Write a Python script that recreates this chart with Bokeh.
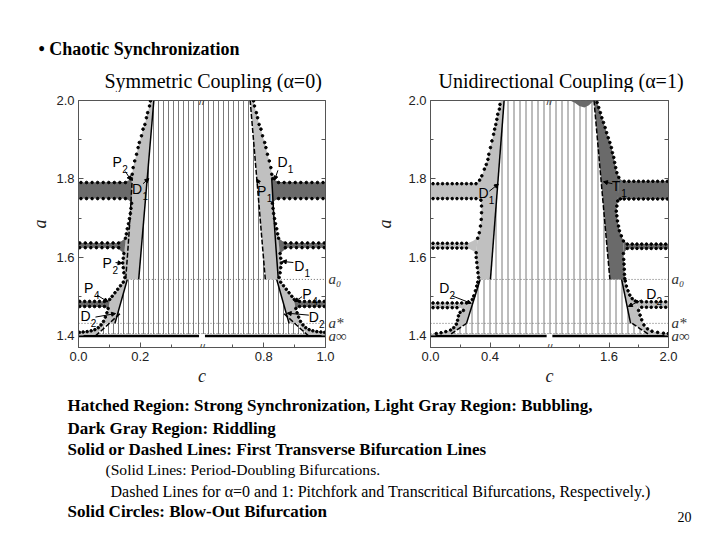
import numpy as np
from bokeh.plotting import figure
from bokeh.models import (Range1d, FixedTicker, LinearAxis, Label, ColumnDataSource,
                          Arrow, NormalHead)
from bokeh.layouts import column, row
from bokeh.embed import file_html
from bokeh.resources import INLINE
from bokeh.core.properties import value

# ------------------------------------------------------------------ values
A_RANGE = (1.3705, 2.0)
A_TICKS = [1.4, 1.6, 1.8, 2.0]
A_TICK_LABELS = ["1.4", "1.6", "1.8", "2.0"]
A_MINOR = [1.5, 1.7, 1.9]
A0, A_STAR, A_INF, A_BASE = 1.544, 1.432, 1.406, 1.400
LEVEL_LABELS = ["a\u2080", "a*", "a\u221e"]          # a_0, a_*, a_inf

# ---------- symmetric coupling (alpha = 0); left half given, right half is its mirror c -> 1 - c
SYM_TICKS = [0.0, 0.2, 0.8, 1.0]
SYM_TICK_LABELS = ["0.0", "0.2", "0.8", "1.0"]
SYM_MINOR = [0.1, 0.3, 0.7, 0.9]
SYM_BREAK = (0.4, 0.6)
SYM_CMAX = 1.0

SYM_UPPER_DOTS = [(0.233, 1.999), (0.230, 1.986), (0.224, 1.969), (0.220, 1.956), (0.215, 1.939),
                  (0.209, 1.927), (0.204, 1.910), (0.197, 1.893), (0.193, 1.880), (0.188, 1.863),
                  (0.182, 1.846), (0.177, 1.829), (0.174, 1.812), (0.171, 1.801),
                  (0.172, 1.738), (0.170, 1.725), (0.168, 1.712), (0.165, 1.699), (0.162, 1.686),
                  (0.158, 1.673), (0.155, 1.660), (0.152, 1.649),
                  (0.147, 1.610), (0.145, 1.598), (0.143, 1.586), (0.145, 1.574), (0.147, 1.561),
                  (0.150, 1.549)]
SYM_UPPER_EDGE = [(0.150, 1.544), (0.195, 1.544), (0.244, 2.0), (0.236, 2.0)]
SYM_LOWER_DOTS = [(0.145, 1.537), (0.136, 1.528), (0.127, 1.519), (0.118, 1.510), (0.109, 1.501),
                  (0.101, 1.493), (0.096, 1.470), (0.092, 1.459), (0.087, 1.448), (0.081, 1.437),
                  (0.073, 1.428), (0.064, 1.421), (0.053, 1.416), (0.041, 1.413), (0.028, 1.411),
                  (0.015, 1.410), (0.003, 1.409)]
SYM_LOWER_EDGE = [(0.0, 1.405), (0.060, 1.405), (0.090, 1.432), (0.118, 1.432), (0.158, 1.544),
                  (0.150, 1.546)]
SYM_DARK_BANDS = [
    [(0.0, 1.791), (0.150, 1.792), (0.163, 1.797), (0.172, 1.806), (0.173, 1.738), (0.163, 1.746),
     (0.150, 1.750), (0.0, 1.750)],
    [(0.0, 1.637), (0.122, 1.637), (0.140, 1.642), (0.153, 1.650), (0.148, 1.609), (0.137, 1.617),
     (0.122, 1.625), (0.0, 1.625)],
    [(0.0, 1.488), (0.080, 1.488), (0.094, 1.491), (0.102, 1.495), (0.097, 1.469), (0.086, 1.474),
     (0.0, 1.475)],
]
SYM_BAND_ROWS = [
    (1.791, [0.008, 0.026, 0.044, 0.062, 0.080, 0.098, 0.116, 0.134, 0.152]),
    (1.750, [0.008, 0.026, 0.044, 0.062, 0.080, 0.098, 0.116, 0.134, 0.152]),
    (1.637, [0.004, 0.022, 0.040, 0.058, 0.076, 0.094, 0.112, 0.130]),
    (1.625, [0.004, 0.022, 0.040, 0.058, 0.076, 0.094, 0.112, 0.130]),
    (1.488, [0.004, 0.020, 0.036, 0.052, 0.068, 0.084]),
    (1.475, [0.004, 0.020, 0.036, 0.052, 0.068, 0.084]),
]
SYM_HATCH_HALF = [(0.060, 1.405), (0.090, 1.432), (0.118, 1.432), (0.158, 1.544), (0.195, 1.544),
                  (0.244, 2.0)]
SYM_INNER = [(0.195, 1.544), (0.244, 2.0)]                     # left solid, mirror dashed
SYM_OUTER = [(0.153, 1.546), (0.160, 1.620), (0.167, 1.700), (0.174, 1.800)]  # left dashed, mirror solid
SYM_D2 = [(0.118, 1.432), (0.158, 1.544)]
SYM_WEDGE = [(0.055, 1.400), (0.136, 1.458)]
SYM_A0_START = 0.150
SYM_LABELS = [  # letter, subscript, text c, text a, arrow tail c, a, arrow head c, a
    ("P", "2", 0.125, 1.842, 0.152, 1.819, 0.170, 1.797),
    ("D", "1", 0.190, 1.775, 0.209, 1.788, 0.228, 1.801),
    ("P", "2", 0.093, 1.587, 0.120, 1.587, 0.141, 1.585),
    ("P", "4", 0.033, 1.523, 0.060, 1.504, 0.095, 1.487),
    ("D", "2", 0.023, 1.451, 0.055, 1.448, 0.120, 1.457),
    ("D", "1", 0.861, 1.842, 0.846, 1.822, 0.835, 1.797),
    ("P", "1", 0.793, 1.769, 0.786, 1.788, 0.777, 1.800),
    ("D", "1", 0.915, 1.578, 0.896, 1.587, 0.860, 1.590),
    ("P", "4", 0.940, 1.508, 0.924, 1.500, 0.900, 1.487),
    ("D", "2", 0.962, 1.448, 0.946, 1.453, 0.876, 1.458),
]

# ---------- unidirectional coupling (alpha = 1)
UNI_TICKS = [0.0, 0.4, 1.6, 2.0]
UNI_TICK_LABELS = ["0.0", "0.4", "1.6", "2.0"]
UNI_MINOR = [0.2, 0.6, 1.4, 1.8]
UNI_BREAK = (0.8, 1.2)
UNI_CMAX = 2.0

UNI_L_UPPER_DOTS = [(0.467, 1.990), (0.463, 1.978), (0.452, 1.965), (0.446, 1.952), (0.439, 1.939),
                    (0.431, 1.927), (0.424, 1.914), (0.413, 1.897), (0.403, 1.880), (0.392, 1.863),
                    (0.386, 1.850), (0.375, 1.837), (0.362, 1.825), (0.345, 1.808), (0.330, 1.797),
                    (0.339, 1.746), (0.343, 1.731), (0.343, 1.714), (0.341, 1.697), (0.336, 1.680),
                    (0.328, 1.663), (0.317, 1.649),
                    (0.307, 1.612), (0.307, 1.600), (0.311, 1.587), (0.315, 1.574), (0.319, 1.561),
                    (0.323, 1.549)]
UNI_L_UPPER_EDGE = [(0.323, 1.544), (0.403, 1.544), (0.495, 2.0), (0.472, 2.0)]
UNI_L_LOWER_DOTS = [(0.318, 1.537), (0.311, 1.527), (0.302, 1.515), (0.291, 1.502), (0.281, 1.493),
                    (0.221, 1.465), (0.199, 1.460), (0.188, 1.451), (0.182, 1.440), (0.174, 1.430),
                    (0.156, 1.421), (0.135, 1.415), (0.103, 1.411), (0.071, 1.408), (0.039, 1.406)]
UNI_L_LOWER_EDGE = [(0.020, 1.405), (0.139, 1.405), (0.242, 1.432), (0.334, 1.544)]
UNI_L_LIGHT_BANDS = [
    [(0.0, 1.788), (0.300, 1.789), (0.318, 1.793), (0.332, 1.800), (0.340, 1.742), (0.325, 1.748),
     (0.300, 1.750), (0.0, 1.750)],
    [(0.0, 1.636), (0.250, 1.636), (0.285, 1.642), (0.317, 1.650), (0.308, 1.610), (0.285, 1.617),
     (0.250, 1.624), (0.0, 1.624)],
    [(0.0, 1.484), (0.230, 1.484), (0.262, 1.488), (0.283, 1.494), (0.222, 1.464), (0.205, 1.471),
     (0.0, 1.472)],
]
UNI_L_BAND_ROWS = [
    (1.788, [0.017, 0.049, 0.081, 0.113, 0.146, 0.178, 0.210, 0.242, 0.274, 0.306]),
    (1.750, [0.017, 0.049, 0.081, 0.113, 0.146, 0.178, 0.210, 0.242, 0.274, 0.306]),
    (1.636, [0.017, 0.049, 0.081, 0.113, 0.146, 0.178, 0.210, 0.242]),
    (1.624, [0.017, 0.049, 0.081, 0.113, 0.146, 0.178, 0.210, 0.242]),
    (1.484, [0.017, 0.049, 0.081, 0.113, 0.146, 0.178, 0.210, 0.242]),
    (1.472, [0.017, 0.049, 0.081, 0.113, 0.146, 0.178]),
]
UNI_R_UPPER_DOTS = [(1.520, 1.995), (1.531, 1.982), (1.542, 1.969), (1.552, 1.956), (1.563, 1.944),
                    (1.574, 1.931), (1.584, 1.918), (1.595, 1.905), (1.606, 1.893), (1.616, 1.880),
                    (1.623, 1.867), (1.632, 1.855), (1.638, 1.842), (1.645, 1.829), (1.653, 1.816),
                    (1.666, 1.804),
                    (1.659, 1.744), (1.653, 1.731), (1.649, 1.718), (1.653, 1.706), (1.657, 1.693),
                    (1.664, 1.680), (1.670, 1.668), (1.683, 1.655), (1.697, 1.642),
                    (1.697, 1.610), (1.699, 1.595), (1.701, 1.583), (1.703, 1.570), (1.704, 1.557),
                    (1.706, 1.546)]
UNI_R_UPPER_EDGE = [(1.706, 1.544), (1.606, 1.544), (1.499, 2.0), (1.515, 2.0)]
UNI_R_LOWER_DOTS = [(1.709, 1.540), (1.717, 1.527), (1.728, 1.515), (1.740, 1.504), (1.756, 1.495),
                    (1.777, 1.489), (1.799, 1.465), (1.809, 1.453), (1.820, 1.441), (1.835, 1.428),
                    (1.859, 1.418), (1.889, 1.412), (1.927, 1.409), (1.966, 1.407), (1.998, 1.406)]
UNI_R_LOWER_EDGE = [(2.0, 1.405), (1.862, 1.405), (1.756, 1.432), (1.745, 1.432), (1.685, 1.544)]
UNI_R_DARK_BANDS = [
    [(2.0, 1.794), (1.700, 1.794), (1.680, 1.798), (1.664, 1.806), (1.659, 1.742), (1.672, 1.748),
     (1.690, 1.749), (2.0, 1.749)],
    [(2.0, 1.634), (1.725, 1.634), (1.708, 1.640), (1.697, 1.645), (1.697, 1.608), (1.708, 1.616),
     (1.725, 1.623), (2.0, 1.623)],
]
UNI_R_LIGHT_BANDS = [
    [(2.0, 1.487), (1.800, 1.487), (1.785, 1.490), (1.775, 1.493), (1.797, 1.466), (1.805, 1.472),
     (1.820, 1.473), (2.0, 1.473)],
]
UNI_R_BAND_ROWS = [
    (1.794, [1.702, 1.734, 1.767, 1.799, 1.831, 1.863, 1.895, 1.927, 1.960, 1.992]),
    (1.749, [1.676, 1.702, 1.734, 1.767, 1.799, 1.831, 1.863, 1.895, 1.927, 1.960, 1.992]),
    (1.634, [1.723, 1.756, 1.788, 1.820, 1.852, 1.884, 1.917, 1.949, 1.981]),
    (1.623, [1.723, 1.756, 1.788, 1.820, 1.852, 1.884, 1.917, 1.949, 1.981]),
    (1.487, [1.788, 1.820, 1.852, 1.884, 1.917, 1.949, 1.981]),
    (1.473, [1.820, 1.852, 1.884, 1.917, 1.949, 1.981]),
]
UNI_CAP = [(1.338, 2.0), (1.370, 1.994), (1.400, 1.986), (1.435, 1.982), (1.465, 1.988),
           (1.490, 1.997), (1.500, 2.0)]
UNI_HATCH = [(0.139, 1.405), (0.242, 1.432), (0.334, 1.544), (0.403, 1.544), (0.495, 2.0),
             (1.499, 2.0), (1.606, 1.544), (1.685, 1.544), (1.745, 1.432), (1.756, 1.432),
             (1.862, 1.405)]
UNI_SOLID = [[(0.403, 1.544), (0.495, 2.0)], [(0.242, 1.432), (0.334, 1.544)],
             [(1.685, 1.544), (1.745, 1.432)]]
UNI_DASHED = [[(1.499, 2.0), (1.606, 1.544)], [(0.139, 1.405), (0.242, 1.432)],
              [(1.756, 1.432), (1.862, 1.405)]]
UNI_A0_START = 0.323
UNI_LABELS = [
    ("D", "1", 0.356, 1.765, 0.396, 1.769, 0.456, 1.787),
    ("D", "2", 0.092, 1.523, 0.146, 1.502, 0.274, 1.483),
    ("T", "1", 1.648, 1.782, 1.623, 1.788, 1.563, 1.793),
    ("D", "2", 1.884, 1.506, 1.820, 1.492, 1.730, 1.475),
]

# ------------------------------------------------------------------ styling
LIGHT = "#c0c0c0"
DARK = "#6a6a6a"
HATCH = "#7a7a7a"
SANS = "Liberation Sans"
SERIF = "Liberation Serif"


def mirror(pts):
    return [(1.0 - c, a) for c, a in pts]


def make_panel(w, bl, br, ticks, tick_labels, minor, brk, cmax, ylab_standoff):
    lo, hi = brk
    gap = hi - lo
    mid = 0.5 * (lo + hi)

    def U(cs):
        cs = np.asarray(cs, dtype=float)
        return [round(float(v), 6) for v in np.where(cs <= mid, cs, cs - gap)]

    def XY(pts):
        return U([q[0] for q in pts]), [q[1] for q in pts]

    umax = U([cmax])[0]
    p = figure(width=w, height=296, x_range=Range1d(0, umax), y_range=Range1d(*A_RANGE),
               toolbar_location=None, output_backend="svg",
               min_border_left=bl, min_border_right=br, min_border_top=8, min_border_bottom=40)
    p.grid.visible = False
    p.outline_line_color = "#555555"
    p.background_fill_color = "white"

    xt = U(ticks)
    xa = p.xaxis[0]
    xa.ticker = FixedTicker(ticks=xt, minor_ticks=U(minor))
    xa.major_label_overrides = {t: s for t, s in zip(xt, tick_labels)}
    xa.axis_label = "c"
    xa.axis_label_standoff = 2
    ya = p.yaxis[0]
    ya.ticker = FixedTicker(ticks=A_TICKS, minor_ticks=A_MINOR)
    ya.major_label_overrides = {t: s for t, s in zip(A_TICKS, A_TICK_LABELS)}
    ya.axis_label = "a"
    ya.axis_label_standoff = ylab_standoff
    for ax in (xa, ya):
        ax.axis_line_color = "#555555"
        ax.major_tick_line_color = "#555555"
        ax.minor_tick_line_color = "#555555"
        ax.major_tick_in = 5
        ax.major_tick_out = 0
        ax.minor_tick_in = 3
        ax.minor_tick_out = 0
        ax.major_label_text_font = SANS
        ax.major_label_text_font_size = "13px"
        ax.major_label_text_color = "#222222"
        ax.major_label_standoff = 4
        ax.axis_label_text_font = SERIF
        ax.axis_label_text_font_style = "italic"
        ax.axis_label_text_font_size = "18px"
        ax.axis_label_text_color = "#222222"
    # right axis: inner tick marks and the level names a_0, a_*, a_inf
    levels = [A0, A_STAR, A_BASE]
    ra = LinearAxis(ticker=FixedTicker(ticks=levels, minor_ticks=A_TICKS + A_MINOR))
    ra.major_label_overrides = {t: s for t, s in zip(levels, LEVEL_LABELS)}
    ra.axis_line_color = "#555555"
    ra.major_tick_in = 0
    ra.major_tick_out = 0
    ra.minor_tick_in = 4
    ra.minor_tick_out = 0
    ra.minor_tick_line_color = "#555555"
    ra.major_label_standoff = 3
    ra.major_label_text_font = SERIF
    ra.major_label_text_font_style = "italic"
    ra.major_label_text_font_size = "15px"
    ra.major_label_text_color = "#333333"
    p.add_layout(ra, "right")
    return p, U, XY, umax


def draw_common(p, U, XY, umax, hatch_pts, hatch_scale, a0_start):
    hx, hy = XY(hatch_pts)
    p.patch(hx, hy, fill_color=None, line_color=None, hatch_pattern="vertical_line",
            hatch_scale=hatch_scale, hatch_color=HATCH, hatch_weight=1)
    x0 = U([a0_start])[0]
    p.segment(x0=[x0, 0, 0], y0=[A0, A_STAR, A_INF], x1=[umax] * 3, y1=[A0, A_STAR, A_INF],
              line_color="#666666", line_width=1, line_dash="1 2")


def draw_base(p, umax, brk):
    lo, hi = brk
    eps = 0.012 * umax
    p.multi_line(xs=[[0, lo - eps], [lo + eps, umax]], ys=[[A_BASE, A_BASE], [A_BASE, A_BASE]],
                 line_color="black", line_width=2.5)
    for yy in (A_RANGE[1], A_RANGE[0]):
        p.add_layout(Label(x=lo, y=yy, text="//", text_font=SANS, text_font_size="11px",
                           text_align="center", text_baseline="middle", text_color="#333333"))


def draw_patches(p, XY, polys, color):
    xs, ys = [], []
    for poly in polys:
        x, y = XY(poly)
        xs.append(x)
        ys.append(y)
    p.patches(xs, ys, fill_color=color, line_color=None)


def draw_lines(p, XY, lines, dashed):
    xs, ys = [], []
    for ln in lines:
        x, y = XY(ln)
        xs.append(x)
        ys.append(y)
    p.multi_line(xs, ys, line_color="black", line_width=1.5,
                 line_dash="5 2" if dashed else "solid")


def draw_dots(p, XY, groups, rows_list):
    xs, ys = [], []
    for g in groups:
        x, y = XY(g)
        xs += x
        ys += y
    for rows in rows_list:
        for a, cs in rows:
            x, y = XY([(c, a) for c in cs])
            xs += x
            ys += y
    p.scatter(xs, ys, marker="circle", size=2.6, color="black")


def draw_labels(p, U, labels):
    tx = U([l[2] for l in labels])
    ty = [l[3] for l in labels]
    p.text(tx, ty, text=[l[0] for l in labels], text_font=value(SANS), text_font_size="14px",
           text_align="center", text_baseline="middle", text_color="black")
    p.text(tx, ty, text=[l[1] for l in labels], text_font=value(SANS), text_font_size="10px",
           text_align="center", text_baseline="middle", text_color="black",
           x_offset=8, y_offset=7)
    src = ColumnDataSource(dict(x0=U([l[4] for l in labels]), y0=[l[5] for l in labels],
                                x1=U([l[6] for l in labels]), y1=[l[7] for l in labels]))
    p.add_layout(Arrow(end=NormalHead(size=4, line_color="black", fill_color="black", line_width=1),
                       x_start="x0", y_start="y0", x_end="x1", y_end="y1", source=src,
                       line_color="black", line_width=1))


# ------------------------------------------------------------------ left panel (alpha = 0)
pL, UL, XYL, umL = make_panel(372, 78, 47, SYM_TICKS, SYM_TICK_LABELS, SYM_MINOR, SYM_BREAK,
                              SYM_CMAX, 3)
sym_hatch = SYM_HATCH_HALF + mirror(SYM_HATCH_HALF)[::-1]
draw_common(pL, UL, XYL, umL, sym_hatch, 5, SYM_A0_START)
light_L = [SYM_UPPER_DOTS + SYM_UPPER_EDGE, SYM_LOWER_DOTS + SYM_LOWER_EDGE]
light_L += [mirror(q) for q in light_L]
draw_patches(pL, XYL, light_L, LIGHT)
draw_patches(pL, XYL, SYM_DARK_BANDS + [mirror(b) for b in SYM_DARK_BANDS], DARK)
draw_base(pL, umL, SYM_BREAK)
draw_lines(pL, XYL, [SYM_INNER, mirror(SYM_OUTER), SYM_D2, mirror(SYM_D2)], False)
draw_lines(pL, XYL, [SYM_OUTER, mirror(SYM_INNER), SYM_WEDGE, mirror(SYM_WEDGE)], True)
sym_rows_m = [(a, [1.0 - c for c in cs]) for a, cs in SYM_BAND_ROWS]
draw_dots(pL, XYL, [SYM_UPPER_DOTS, SYM_LOWER_DOTS, mirror(SYM_UPPER_DOTS), mirror(SYM_LOWER_DOTS)],
          [SYM_BAND_ROWS, sym_rows_m])
draw_labels(pL, UL, SYM_LABELS)

# ------------------------------------------------------------------ right panel (alpha = 1)
pR, UR, XYR, umR = make_panel(340, 47, 44, UNI_TICKS, UNI_TICK_LABELS, UNI_MINOR, UNI_BREAK,
                              UNI_CMAX, 10)
draw_common(pR, UR, XYR, umR, UNI_HATCH, 6, UNI_A0_START)
draw_patches(pR, XYR, [UNI_L_UPPER_DOTS + UNI_L_UPPER_EDGE, UNI_L_LOWER_DOTS + UNI_L_LOWER_EDGE,
                       UNI_R_LOWER_DOTS + UNI_R_LOWER_EDGE] + UNI_L_LIGHT_BANDS + UNI_R_LIGHT_BANDS,
             LIGHT)
draw_patches(pR, XYR, [UNI_R_UPPER_DOTS + UNI_R_UPPER_EDGE, UNI_CAP] + UNI_R_DARK_BANDS, DARK)
draw_base(pR, umR, UNI_BREAK)
draw_lines(pR, XYR, UNI_SOLID, False)
draw_lines(pR, XYR, UNI_DASHED, True)
draw_dots(pR, XYR, [UNI_L_UPPER_DOTS, UNI_L_LOWER_DOTS, UNI_R_UPPER_DOTS, UNI_R_LOWER_DOTS],
          [UNI_L_BAND_ROWS, UNI_R_BAND_ROWS])
draw_labels(pR, UR, UNI_LABELS)


# ------------------------------------------------------------------ slide texts
def text_fig(w, h):
    p = figure(width=w, height=h, x_range=Range1d(0, w), y_range=Range1d(h, 0),
               toolbar_location=None, output_backend="svg", x_axis_type=None, y_axis_type=None,
               min_border=0, outline_line_color=None)
    p.grid.visible = False
    return p


HEADER_TEXTS = [  # text, x, centre y, size, style
    ("\u2022 Chaotic Synchronization", 38, 48, "18px", "bold"),
    ("Symmetric Coupling (\u03b1=0)", 104, 80, "20px", "normal"),
    ("Unidirectional Coupling (\u03b1=1)", 438, 80, "20px", "normal"),
]
FOOTER_TEXTS = [
    ("Hatched Region: Strong Synchronization, Light Gray Region: Bubbling,", 67, 17, "17px", "bold"),
    ("Dark Gray Region: Riddling", 67, 40, "17px", "bold"),
    ("Solid or Dashed Lines: First Transverse Bifurcation Lines", 67, 61, "17px", "bold"),
    ("(Solid Lines: Period-Doubling Bifurcations.", 105, 81, "15.6px", "normal"),
    ("Dashed Lines for \u03b1=0 and 1: Pitchfork and Transcritical Bifurcations, Respectively.)",
     110, 103, "16px", "normal"),
    ("Solid Circles: Blow-Out Bifurcation", 67, 123, "17px", "bold"),
    ("20", 677, 128, "14px", "normal"),
]

header = text_fig(712, 92)
for t, x, y, s, st in HEADER_TEXTS:
    header.add_layout(Label(x=x, y=y, text=t, text_font=SERIF, text_font_size=s,
                            text_font_style=st, text_baseline="middle", text_color="black"))
footer = text_fig(712, 148)
for t, x, y, s, st in FOOTER_TEXTS:
    footer.add_layout(Label(x=x, y=y, text=t, text_font=SERIF, text_font_size=s,
                            text_font_style=st, text_baseline="middle", text_color="black"))

layout = column(header, row(pL, pR), footer)
open("out.html", "w").write(file_html(layout, INLINE))
